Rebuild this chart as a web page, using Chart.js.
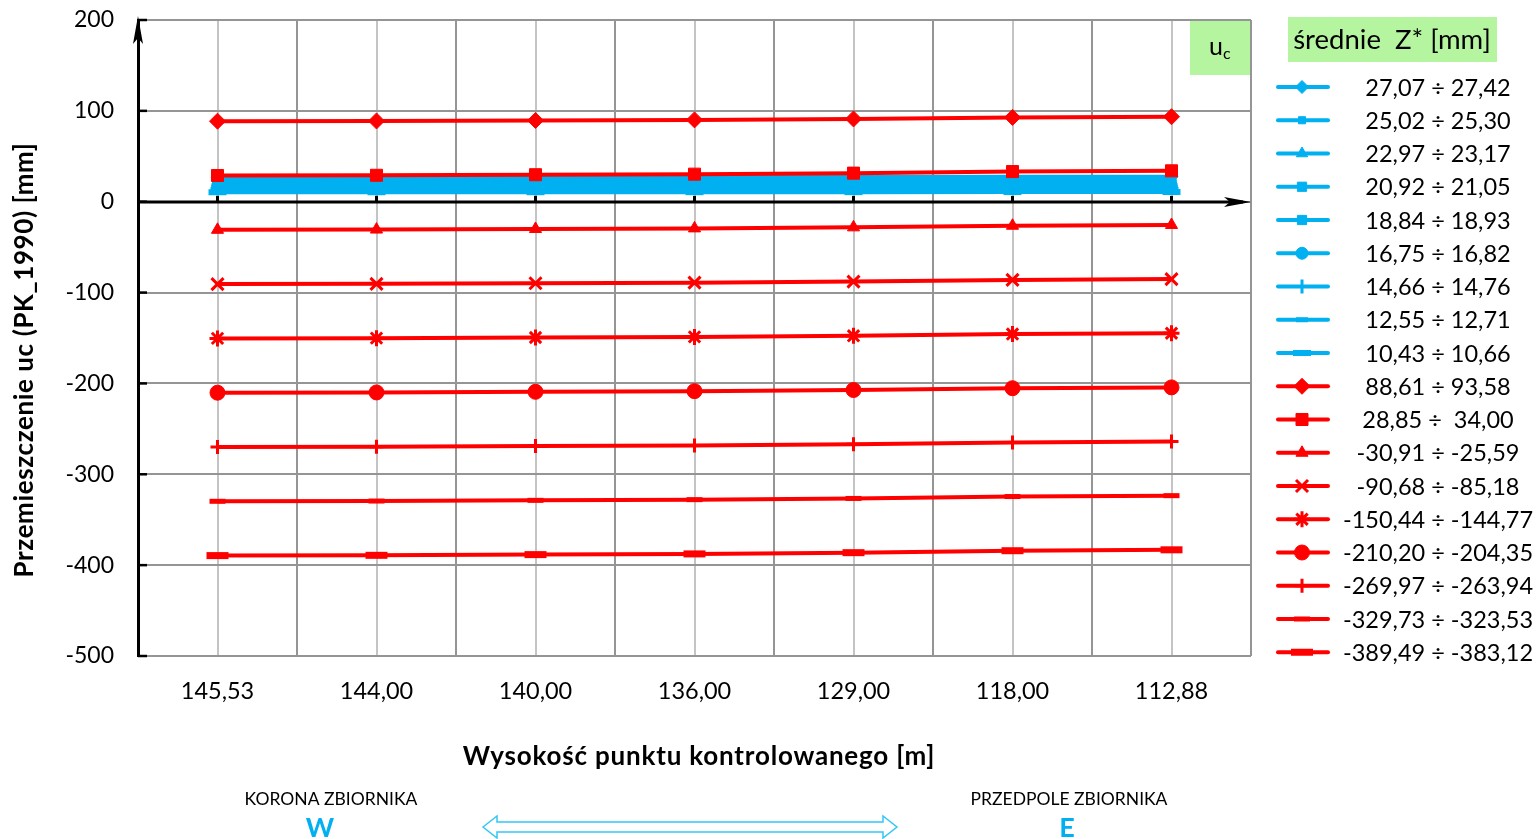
<!DOCTYPE html>
<html>
<head>
<meta charset="utf-8">
<script src="https://cdn.jsdelivr.net/npm/chart.js@4.4.1/dist/chart.umd.min.js"></script>
<style>
html, body { margin: 0; padding: 0; background: #fff; }
#wrap { position: relative; width: 1539px; height: 839px; }
</style>
</head>
<body>
<div id="wrap"><canvas id="chart"></canvas></div>
<script>
// heights of the control points [m]
const heights = ["145,53", "144,00", "140,00", "136,00", "129,00", "118,00", "112,88"];

// displacement uc [mm], blue group
const blue1 = [27.07, 27.09, 27.13, 27.17, 27.25, 27.37, 27.42];
const blue2 = [25.02, 25.03, 25.07, 25.10, 25.16, 25.26, 25.30];
const blue3 = [22.97, 22.98, 23.00, 23.03, 23.07, 23.14, 23.17];
const blue4 = [20.92, 20.93, 20.94, 20.96, 20.99, 21.03, 21.05];
const blue5 = [18.84, 18.84, 18.86, 18.87, 18.89, 18.92, 18.93];
const blue6 = [16.75, 16.75, 16.76, 16.77, 16.79, 16.81, 16.82];
const blue7 = [14.66, 14.66, 14.68, 14.69, 14.71, 14.74, 14.76];
const blue8 = [12.55, 12.56, 12.58, 12.60, 12.63, 12.68, 12.71];
const blue9 = [10.43, 10.44, 10.47, 10.50, 10.55, 10.62, 10.66];

// displacement uc [mm], red group
const red1 = [88.61, 88.84, 89.45, 90.06, 91.13, 92.80, 93.58];
const red2 = [28.85, 29.09, 29.72, 30.35, 31.46, 33.19, 34.00];
const red3 = [-30.91, -30.66, -30.01, -29.36, -28.22, -26.42, -25.59];
const red4 = [-90.68, -90.42, -89.75, -89.07, -87.90, -86.04, -85.18];
const red5 = [-150.44, -150.17, -149.48, -148.79, -147.57, -145.66, -144.77];
const red6 = [-210.20, -209.93, -209.21, -208.49, -207.24, -205.27, -204.35];
const red7 = [-269.97, -269.69, -268.95, -268.21, -266.92, -264.89, -263.94];
const red8 = [-329.73, -329.44, -328.68, -327.92, -326.59, -324.50, -323.53];
const red9 = [-389.49, -389.19, -388.41, -387.63, -386.27, -384.12, -383.12];

const legendLabels = [
	"27,07 ÷ 27,42", "25,02 ÷ 25,30", "22,97 ÷ 23,17", "20,92 ÷ 21,05", "18,84 ÷ 18,93",
	"16,75 ÷ 16,82", "14,66 ÷ 14,76", "12,55 ÷ 12,71", "10,43 ÷ 10,66",
	"88,61 ÷ 93,58", "28,85 ÷  34,00", "-30,91 ÷ -25,59", "-90,68 ÷ -85,18",
	"-150,44 ÷ -144,77", "-210,20 ÷ -204,35", "-269,97 ÷ -263,94",
	"-329,73 ÷ -323,53", "-389,49 ÷ -383,12",
];

const yMin = -500;
const yMax = 200;
const yStep = 100;

const BLUE = "#00B0F0";
const RED = "#FF0000";
const GREEN = "#B5F5A0";
const GRID_DARK = "#959595";
const GRID_LIGHT = "#C4C4C4";
const FONT = "Lato, 'Open Sans', sans-serif";

const blueSeries = [blue1, blue2, blue3, blue4, blue5, blue6, blue7, blue8, blue9];
const redSeries = [red1, red2, red3, red4, red5, red6, red7, red8, red9];

const markers = [
	{ style: "rectRot", r: 6.5, bw: 1 },
	{ style: "rect", r: 5, bw: 1 },
	{ style: "triangle", r: 6.5, bw: 1 },
	{ style: "rect", r: 6.5, bw: 1 },
	{ style: "rect", r: 6.5, bw: 1 },
	{ style: "circle", r: 6, bw: 1 },
	{ style: "cross", r: 7, bw: 3 },
	{ style: "line", r: 6, bw: 5 },
	{ style: "line", r: 9, bw: 6 },
	{ style: "rectRot", r: 8, bw: 1 },
	{ style: "rect", r: 8.5, bw: 1 },
	{ style: "triangle", r: 7, bw: 1 },
	{ style: "crossRot", r: 8.5, bw: 3 },
	{ style: "star", r: 8, bw: 3 },
	{ style: "circle", r: 7.5, bw: 1 },
	{ style: "cross", r: 7, bw: 3 },
	{ style: "line", r: 8, bw: 5 },
	{ style: "line", r: 11, bw: 7 },
];

const datasets = [];
blueSeries.concat(redSeries).forEach((values, i) => {
	const color = i < 9 ? BLUE : RED;
	const m = markers[i];
	datasets.push({
		label: legendLabels[i],
		data: values,
		borderColor: color,
		backgroundColor: color,
		borderWidth: 4,
		pointStyle: m.style,
		pointRadius: m.r,
		pointBorderWidth: m.bw,
		pointBackgroundColor: color,
		pointBorderColor: color,
		order: i < 9 ? 1 : 0,
	});
});

const drawMarker = (ctx, m, color, x, y, scale) => {
	ctx.fillStyle = color;
	ctx.strokeStyle = color;
	ctx.lineWidth = m.bw;
	Chart.helpers.drawPoint(ctx, { pointStyle: m.style, rotation: 0, radius: m.r * scale, borderWidth: m.bw }, x, y);
};

const decor = {
	id: "decor",
	beforeDatasetsDraw(chart) {
		const { ctx, chartArea: a, scales } = chart;
		const x = scales.x;
		const y = scales.y;
		const half = (x.getPixelForValue(1) - x.getPixelForValue(0)) / 2;
		ctx.save();

		// grid lines between categories
		ctx.strokeStyle = GRID_DARK;
		ctx.lineWidth = 2;
		for (let i = 0; i < heights.length; i++) {
			const px = Math.round(x.getPixelForValue(i) + half);
			ctx.beginPath();
			ctx.moveTo(px, a.top);
			ctx.lineTo(px, a.bottom);
			ctx.stroke();
		}

		// y ticks pointing inside
		ctx.strokeStyle = "#000";
		ctx.lineWidth = 2.5;
		for (let v = yMin; v <= yMax; v += yStep) {
			const py = y.getPixelForValue(v);
			ctx.beginPath();
			ctx.moveTo(a.left, py);
			ctx.lineTo(a.left + 9, py);
			ctx.stroke();
		}

		// y axis arrow
		ctx.fillStyle = "#000";
		ctx.beginPath();
		ctx.moveTo(a.left, a.top - 4);
		ctx.lineTo(a.left - 5, a.top + 24);
		ctx.lineTo(a.left, a.top + 18);
		ctx.lineTo(a.left + 5, a.top + 24);
		ctx.closePath();
		ctx.fill();

		// zero axis with arrow
		const y0 = Math.round(y.getPixelForValue(0));
		ctx.strokeStyle = "#000";
		ctx.lineWidth = 3;
		ctx.beginPath();
		ctx.moveTo(a.left, y0);
		ctx.lineTo(a.right - 8, y0);
		ctx.stroke();
		ctx.beginPath();
		ctx.moveTo(a.right, y0);
		ctx.lineTo(a.right - 27, y0 - 5);
		ctx.lineTo(a.right - 21, y0);
		ctx.lineTo(a.right - 27, y0 + 5);
		ctx.closePath();
		ctx.fill();
		ctx.lineWidth = 3;
		for (let i = 0; i < heights.length; i++) {
			const px = x.getPixelForValue(i);
			ctx.beginPath();
			ctx.moveTo(px, y0 - 6);
			ctx.lineTo(px, y0);
			ctx.stroke();
		}
		ctx.restore();
	},
	afterDraw(chart) {
		const { ctx, chartArea: a } = chart;
		ctx.save();

		// uc box
		ctx.fillStyle = GREEN;
		ctx.fillRect(1190, a.top + 1, 60, 54);
		ctx.fillStyle = "#000";
		ctx.textBaseline = "alphabetic";
		ctx.textAlign = "left";
		ctx.font = "25px " + FONT;
		ctx.fillText("u", 1209, a.top + 35);
		ctx.font = "16px " + FONT;
		ctx.fillText("c", 1223, a.top + 39);

		// legend header
		ctx.fillStyle = GREEN;
		ctx.fillRect(1288, 17, 209, 45);
		ctx.fillStyle = "#000";
		ctx.font = "27.5px " + FONT;
		ctx.textAlign = "center";
		ctx.textBaseline = "middle";
		ctx.fillText("średnie  Z* [mm]", 1392, 40);

		// legend items
		ctx.font = "23.5px " + FONT;
		chart.data.datasets.forEach((ds, i) => {
			const ly = 87 + i * 33.25;
			ctx.strokeStyle = ds.borderColor;
			ctx.lineWidth = 4;
			ctx.lineCap = "round";
			ctx.beginPath();
			ctx.moveTo(1278, ly);
			ctx.lineTo(1328, ly);
			ctx.stroke();
			ctx.lineCap = "butt";
			drawMarker(ctx, markers[i], ds.borderColor, 1302, ly, 1);
			ctx.fillStyle = "#000";
			ctx.fillText(ds.label, 1438, ly + 1);
		});

		// axis titles
		ctx.font = "bold 26px " + FONT;
		ctx.fillStyle = "#000";
		ctx.letterSpacing = "0.8px";
		ctx.fillText("Wysokość punktu kontrolowanego [m]", 699, 757);
		ctx.save();
		ctx.letterSpacing = "0.6px";
		ctx.translate(25, 360);
		ctx.rotate(-Math.PI / 2);
		ctx.fillText("Przemieszczenie uc (PK_1990) [mm]", 0, 0);
		ctx.restore();
		ctx.letterSpacing = "0px";

		// W / E annotation
		ctx.font = "17.5px " + FONT;
		ctx.fillText("KORONA ZBIORNIKA", 331, 799);
		ctx.fillText("PRZEDPOLE ZBIORNIKA", 1069, 799);
		ctx.font = "bold 27px " + FONT;
		ctx.fillStyle = BLUE;
		ctx.fillText("W", 320, 828);
		ctx.fillText("E", 1067, 828);

		// double arrow outline
		ctx.strokeStyle = "#33C7F5";
		ctx.lineWidth = 1.5;
		ctx.beginPath();
		ctx.moveTo(483, 827);
		ctx.lineTo(497, 816);
		ctx.lineTo(497, 822);
		ctx.lineTo(883, 822);
		ctx.lineTo(883, 816);
		ctx.lineTo(897, 827);
		ctx.lineTo(883, 838);
		ctx.lineTo(883, 832);
		ctx.lineTo(497, 832);
		ctx.lineTo(497, 838);
		ctx.closePath();
		ctx.stroke();

		ctx.restore();
	},
};

Chart.defaults.font.family = FONT;
Chart.defaults.color = "#000";

new Chart(document.getElementById("chart"), {
	type: "line",
	data: { labels: heights, datasets: datasets },
	options: {
		responsive: true,
		maintainAspectRatio: false,
		animation: false,
		events: [],
		layout: { padding: { top: 20, right: 288, left: 0, bottom: 0 } },
		plugins: { legend: { display: false }, tooltip: { enabled: false } },
		scales: {
			x: {
				type: "category",
				offset: true,
				afterFit: (s) => { s.height = 183; },
				grid: { offset: false, color: GRID_LIGHT, lineWidth: 2, drawTicks: false },
				border: { display: false },
				ticks: { font: { size: 23.5 }, padding: 21, maxRotation: 0 },
			},
			y: {
				min: yMin,
				max: yMax,
				afterFit: (s) => { s.width = 138; },
				grid: { color: GRID_DARK, lineWidth: 2, drawTicks: true, tickLength: 24, tickColor: "rgba(0,0,0,0)" },
				border: { color: "#000", width: 3 },
				ticks: { stepSize: yStep, font: { size: 23 }, padding: 0 },
			},
		},
	},
	plugins: [decor],
});
</script>
</body>
</html>
